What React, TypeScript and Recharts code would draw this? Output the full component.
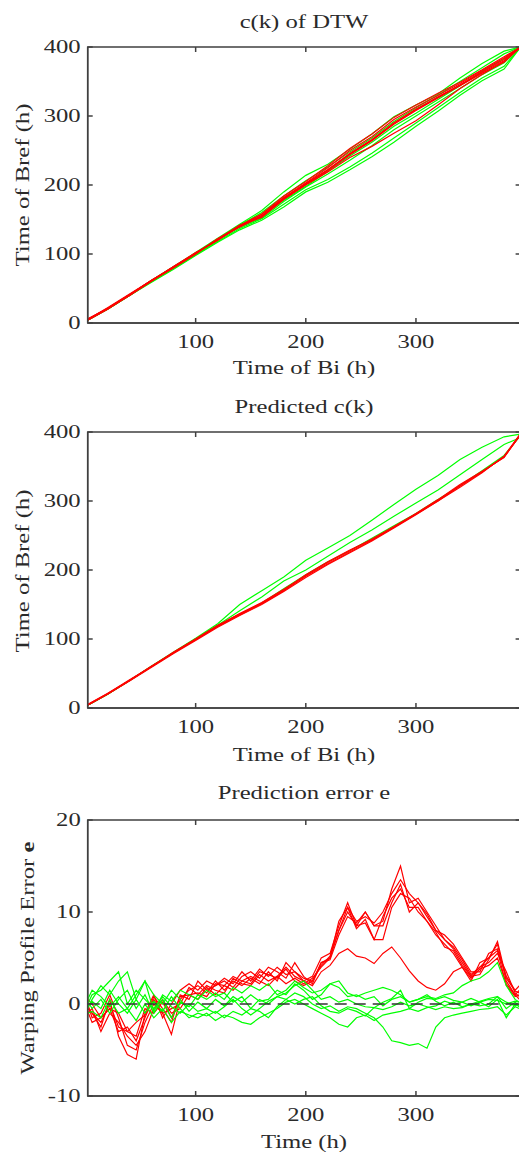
import React from 'react';
import { LineChart, Line, XAxis, YAxis, ReferenceLine, ReferenceArea } from 'recharts';

// ---------- data ----------
const X_TICKS = [100, 200, 300];
const Y_TICKS_CK = [0, 100, 200, 300, 400];
const Y_TICKS_ERR = [-10, 0, 10, 20];

// Panel 1 & 2 time grid (h)
const T1 = [2, 20, 40, 60, 80, 100, 120, 140, 160, 180, 200, 220, 240, 260, 280, 300, 320, 340, 360, 380, 395];

// Panel 1: c(k) of DTW
const dtwRed1 = [5, 21, 41, 62, 81, 101, 121, 140, 156, 180, 202, 222, 246, 266, 290, 310, 327, 345, 363, 380, 400];
const dtwRed2 = [4, 20, 40, 61, 80, 100, 122, 139, 155, 182, 203, 225, 250, 270, 295, 313, 330, 347, 366, 384, 400];
const dtwRed3 = [5, 22, 42, 62, 82, 102, 120, 141, 158, 181, 201, 221, 244, 264, 288, 308, 326, 344, 362, 378, 400];
const dtwRed4 = [6, 21, 41, 61, 81, 101, 121, 142, 153, 179, 200, 219, 240, 256, 275, 293, 316, 340, 360, 379, 400];
const dtwRed5 = [4, 20, 41, 62, 80, 100, 122, 141, 158, 184, 205, 228, 253, 274, 298, 316, 333, 349, 367, 386, 400];
const dtwRed6 = [5, 21, 40, 61, 82, 101, 120, 140, 154, 180, 201, 222, 245, 265, 290, 309, 328, 345, 364, 382, 400];
const dtwGreen1 = [5, 21, 41, 62, 82, 102, 123, 143, 163, 190, 214, 230, 252, 274, 299, 316, 332, 355, 376, 394, 400];
const dtwGreen2 = [4, 20, 40, 60, 81, 101, 121, 142, 160, 184, 206, 226, 248, 268, 292, 312, 330, 350, 370, 390, 400];
const dtwGreen3 = [5, 20, 40, 59, 78, 98, 117, 135, 149, 168, 190, 204, 222, 241, 262, 285, 307, 330, 351, 368, 400];
const dtwGreen4 = [4, 21, 41, 60, 79, 99, 118, 137, 151, 172, 193, 208, 226, 246, 268, 290, 312, 334, 355, 372, 400];
const dtwGreen5 = [5, 21, 41, 61, 81, 100, 120, 139, 152, 176, 197, 216, 236, 257, 280, 300, 320, 340, 360, 377, 400];
const dtwGreen6 = [4, 20, 40, 61, 80, 100, 121, 140, 155, 178, 198, 220, 242, 262, 285, 304, 324, 344, 365, 383, 398];

// Panel 2: Predicted c(k)
const predGreen1 = [4, 20, 40, 61, 81, 101, 122, 150, 170, 190, 214, 232, 250, 272, 295, 317, 337, 360, 378, 393, 397];
const predGreen2 = [4, 20, 40, 60, 80, 100, 120, 141, 161, 184, 200, 220, 240, 258, 278, 297, 316, 338, 360, 382, 392];
const predGreen3 = [4, 20, 40, 60, 80, 100, 119, 136, 152, 173, 193, 212, 228, 246, 264, 282, 302, 322, 344, 366, 395];
const predRed1 = [4, 20, 40, 60, 80, 99, 118, 135, 151, 170, 191, 209, 226, 243, 262, 281, 300, 322, 342, 364, 397];
const predRed2 = [5, 21, 41, 60, 81, 100, 119, 137, 153, 172, 192, 211, 228, 245, 263, 282, 302, 324, 343, 363, 397];
const predRed3 = [4, 20, 39, 59, 79, 98, 117, 134, 150, 169, 189, 208, 225, 242, 261, 280, 300, 320, 341, 365, 398];
const predRed4 = [5, 21, 40, 61, 80, 100, 120, 136, 152, 171, 193, 212, 229, 244, 262, 281, 301, 322, 342, 364, 396];

// Panel 3 time grid (h)
const T3 = [2, 6, 14, 22, 30, 38, 46, 54, 62, 70, 78, 86, 94, 102, 110, 118, 126, 134, 142, 150, 158, 166, 174, 182, 190, 198, 206, 214, 222, 230, 238, 246, 254, 262, 270, 278, 286, 294, 302, 310, 318, 326, 334, 342, 350, 358, 366, 374, 382, 390, 394];

// Panel 3: Prediction error e
const errRed1 = [-0.5, -1, -2.5, 0.5, -3.5, -5.5, -6, -1, 1, -1.5, 0, 1.5, 2.2, 1.5, 2.5, 2, 2.8, 2.2, 3.5, 2.5, 3.8, 3, 4, 3.2, 3.5, 2.5, 3, 5, 5.5, 8.5, 11, 8.5, 10, 8.5, 9, 12.5, 15, 11, 11.5, 10, 8.5, 7, 6, 4.5, 3, 4, 5, 6.5, 2.5, 1, 1.5];
const errRed2 = [0, -1.5, -1, 1, -1.5, -4.5, -5, -2, 0, -1, -3.3, 0.5, 1.5, 2, 1.2, 2.5, 1.5, 2.5, 2, 2.8, 2.2, 3.5, 2.5, 4.5, 3.5, 2.8, 2.5, 4.5, 5, 9, 10.5, 9, 9.5, 8.8, 10, 12, 13.5, 12, 11, 9.5, 8, 7.5, 6.5, 5, 3.5, 3.5, 5.5, 6, 3, 1.5, 2];
const errRed3 = [-1, -0.5, -3, -1, -2, -3.5, -4.5, -3, -0.5, 0.5, -1, -0.5, 1, 0.5, 1.8, 1, 2, 1.5, 2.5, 3, 2.5, 2, 3, 2.2, 2.8, 2.2, 2.8, 4, 5, 8, 10, 8.5, 8.8, 7, 9.5, 11.5, 12.5, 10.5, 10.5, 9, 7.5, 6.5, 5.5, 4, 2.5, 4.5, 5, 5.8, 2, 0.8, 1];
const errRed4 = [-0.8, -2, -1.5, -0.5, -3, -2.5, -4, -1.5, 0.8, -0.5, -2, 1, 0.5, 2.5, 1.5, 2, 2.5, 1.8, 3, 3.5, 2.8, 4, 3.5, 2.8, 4.5, 3, 2.2, 4.5, 4.8, 7.5, 9.5, 8.8, 10, 8.5, 8.5, 11, 13, 10, 11, 9.8, 8, 7, 6.2, 4.8, 3.2, 4, 4.5, 5.5, 3.5, 1.2, 0.8];
const errRed5 = [-0.3, -1, -2, 0, -2.5, -3, -2, -1.2, 0.5, -1, -0.5, 0, 1.8, 1, 2, 1.5, 1.2, 2.8, 2.2, 2, 3.2, 2.5, 3, 4, 3, 2.5, 2, 3.5, 4.2, 5.5, 6, 5.2, 5, 4.4, 5.5, 6.2, 5, 3.6, 2.5, 1.8, 1.5, 2.2, 3.5, 4, 2.8, 3.8, 4.2, 5, 2.2, 1, 0.5];
const errRed6 = [0.5, 0, -1.5, -0.5, -1, -3, -3.5, -0.5, -1, 0.2, -1.5, 0.8, 1, 1.2, 0.8, 2.2, 2, 3, 2.5, 2.2, 3.5, 3.2, 2.8, 3.8, 2.5, 2, 2.5, 4.2, 5.2, 8, 10.5, 8.2, 9.2, 7, 7, 10.5, 12, 11.5, 10, 9, 7.8, 6.2, 5.8, 4.2, 3, 3.2, 4.8, 6.8, 2.8, 1.4, 1.2];
const errGreen1 = [0, 1, 1.5, 2.5, 3.5, 0, 1.5, 0.5, -0.5, 0.8, -0.3, -1, 0, -0.8, -0.5, -1, -0.3, 0.5, -0.5, -1.2, -0.5, 0.3, 0.8, 0.5, 1.2, 0.8, 0, -0.5, -0.2, -0.8, -0.3, -0.5, -1, -1.5, -2.5, -4, -4.2, -4.5, -4.3, -4.8, -2.5, -1.5, -1.2, -1, -0.8, -0.6, -0.5, -0.3, -1.2, -0.3, -0.5];
const errGreen2 = [-0.5, 0.5, 2, 1, 2.5, 3.5, 0.5, 2.5, 1, 0, 1.5, 0.5, -0.8, 0.2, -0.5, 0.5, -0.2, 0.8, 0.2, 1, 0.3, 0.5, 1.5, 1, 2.2, 1.5, 0.5, 1, 2.2, 1.8, 0.8, 1, 0.5, 0.8, -0.2, 0.5, 0.8, 0.2, 0.5, 0.8, 0.6, 1, 1.2, 2, 2.5, 2.8, 3.5, 4.5, 2, 0.5, 0.2];
const errGreen3 = [0.3, -0.5, 0.5, -1, 0.5, 1.5, -0.5, 1, -1, 0.5, -1.5, 0.2, -0.3, 1, 0.5, 1.2, 0.5, 1.8, 1.2, 2, 1.5, 2.2, 1, 1.5, 2.5, 1.8, 1.2, 1.5, 2.2, 2.5, 1.2, 0.8, 1.2, 1.5, 1.8, 1.5, 1, 0.2, 0.5, 1, 0.3, -0.2, 0.2, -0.3, 0, 0.3, 0.6, 0.8, 0.2, -0.2, 0];
const errGreen4 = [-1, -0.8, -1.5, 0.5, -1, -0.5, -1.8, 0, -1.5, -0.5, -2, -0.8, -1.2, -1.5, -1, -1.8, -1.2, -1.5, -2, -2.2, -1.5, -1, -0.5, 0.2, 0.5, 0, -0.5, -1, -1.5, -2.2, -2.5, -1.5, -1.2, -1.8, -1.2, -1, -0.8, -0.5, -0.8, -0.4, -0.2, 0.3, 0, 0.2, -0.2, 0.2, 0.5, 0.4, 0, 0.3, 0.2];
const errGreen5 = [0.5, 1.5, 0.8, -0.3, 0.8, -0.5, 1, 2.5, -0.8, 1, 0.3, 1.5, 1, 0.5, 1.5, 0.8, 1.2, 0.2, 0.8, -0.5, 0.5, 0, 0.8, 1.2, 2, 2.5, 1.5, 0.5, 0.8, 0.2, 0.5, 0, -0.3, -0.4, 0.2, 0.6, 1.5, -0.5, 0.2, 0.6, 0.5, 0.8, 0.4, 0.2, 0.6, 0.2, -0.3, 0.5, -1.5, 0, -0.3];
const errGreen6 = [-0.2, 0.3, -0.5, 1.5, 0, -1, 0.5, -1, 0.3, -0.8, 0.8, -0.5, -1.5, -1, -1.3, -0.8, -1.5, -0.8, -1.2, -0.5, -0.8, -1.5, -0.3, 0.5, 0, 0.5, 0.8, -0.2, -0.8, -1, -0.5, -0.8, -1.3, -0.4, -0.6, -0.3, 0.2, -0.2, 0, -0.3, -0.6, -0.3, -0.5, -0.4, 0, -0.2, 0, 0.8, -0.5, 0.2, -0.2];

// ---------- styling ----------
const RED = '#ff0000';
const GREEN = '#00ff00';
const AX = '#404040';
const TXT = '#2a2a2a';
const FONT = '"Liberation Serif", "Times New Roman", serif';
const SX = 1.37;
const FS = 18;

const CH_W = 540;
const CH_H = 378;
const M_TOP = 47;
const Y_W = 87.7;
const M_RIGHT = 19.4;
const X_H = 55;
const PLOT_H = CH_H - M_TOP - X_H;
const PLOT_W = CH_W - Y_W - M_RIGHT;
const X_DOMAIN: [number, number] = [2, 395];

const mk = (xs: number[], ys: number[]) => xs.map((x, i) => ({ x, y: ys[i] }));

function XTick(props: any) {
  const { x, y, payload } = props;
  return (
    <g>
      <line x1={x} y1={y} x2={x} y2={y - 5} stroke={AX} strokeWidth={1.5} />
      <line x1={x} y1={y - PLOT_H} x2={x} y2={y - PLOT_H + 5} stroke={AX} strokeWidth={1.5} />
      <text
        transform={`translate(${x},${y + 19}) scale(${SX},1)`}
        textAnchor="middle"
        dominantBaseline="central"
        fontSize={FS}
        fontFamily={FONT}
        fill={TXT}
      >
        {payload.value}
      </text>
    </g>
  );
}

function YTick(props: any) {
  const { x, y, payload } = props;
  return (
    <g>
      <line x1={x} y1={y} x2={x + 5} y2={y} stroke={AX} strokeWidth={1.5} />
      <line x1={x + PLOT_W - 5} y1={y} x2={x + PLOT_W} y2={y} stroke={AX} strokeWidth={1.5} />
      <text
        transform={`translate(${x - 7},${y}) scale(${SX},1)`}
        textAnchor="end"
        dominantBaseline="central"
        fontSize={FS}
        fontFamily={FONT}
        fill={TXT}
      >
        {payload.value}
      </text>
    </g>
  );
}

type Series = { ys: number[]; color: string };

function Panel(props: {
  top: number;
  xs: number[];
  series: Series[];
  yDomain: [number, number];
  yTicks: number[];
  zeroLine?: boolean;
}) {
  const { top, xs, series, yDomain, yTicks, zeroLine } = props;
  return (
    <div style={{ position: 'absolute', left: 0, top }}>
      <LineChart width={CH_W} height={CH_H} margin={{ top: M_TOP, right: M_RIGHT, bottom: 0, left: 0 }}>
        <XAxis
          type="number"
          dataKey="x"
          domain={X_DOMAIN}
          ticks={X_TICKS}
          interval={0}
          allowDataOverflow
          height={X_H}
          tickSize={0}
          tickMargin={0}
          tickLine={false}
          axisLine={{ stroke: AX, strokeWidth: 1.5 }}
          tick={(p: any) => <XTick {...p} />}
        />
        <YAxis
          type="number"
          dataKey="y"
          domain={yDomain}
          ticks={yTicks}
          interval={0}
          allowDataOverflow
          width={Y_W}
          tickSize={0}
          tickMargin={0}
          tickLine={false}
          axisLine={{ stroke: AX, strokeWidth: 1.5 }}
          tick={(p: any) => <YTick {...p} />}
        />
        <ReferenceArea
          x1={X_DOMAIN[0]}
          x2={X_DOMAIN[1]}
          y1={yDomain[0]}
          y2={yDomain[1]}
          fill="none"
          fillOpacity={0}
          stroke={AX}
          strokeWidth={1.5}
          ifOverflow="visible"
        />
        {series.map((s, i) => (
          <Line
            key={i}
            data={mk(xs, s.ys)}
            dataKey="y"
            type="linear"
            stroke={s.color}
            strokeWidth={1.2}
            dot={false}
            activeDot={false}
            isAnimationActive={false}
          />
        ))}
        {zeroLine ? (
          <ReferenceLine y={0} stroke="#333" strokeWidth={1.5} strokeDasharray="12 7" />
        ) : null}
      </LineChart>
    </div>
  );
}

const textStyle: React.CSSProperties = {
  position: 'absolute',
  whiteSpace: 'nowrap',
  fontFamily: FONT,
  fontSize: FS,
  color: TXT,
  lineHeight: 1,
};

function Txt(props: { x: number; y: number; rotate?: boolean; children: React.ReactNode }) {
  const { x, y, rotate, children } = props;
  return (
    <div
      style={{
        ...textStyle,
        left: x,
        top: y,
        transform: `translate(-50%,-50%) ${rotate ? 'rotate(-90deg) ' : ''}scaleX(${SX})`,
      }}
    >
      {children}
    </div>
  );
}

export default function App() {
  const dtwSeries: Series[] = [
    { ys: dtwGreen1, color: GREEN },
    { ys: dtwGreen2, color: GREEN },
    { ys: dtwGreen3, color: GREEN },
    { ys: dtwGreen4, color: GREEN },
    { ys: dtwGreen5, color: GREEN },
    { ys: dtwGreen6, color: GREEN },
    { ys: dtwRed1, color: RED },
    { ys: dtwRed2, color: RED },
    { ys: dtwRed3, color: RED },
    { ys: dtwRed4, color: RED },
    { ys: dtwRed5, color: RED },
    { ys: dtwRed6, color: RED },
  ];
  const predSeries: Series[] = [
    { ys: predGreen1, color: GREEN },
    { ys: predGreen2, color: GREEN },
    { ys: predGreen3, color: GREEN },
    { ys: predRed1, color: RED },
    { ys: predRed2, color: RED },
    { ys: predRed3, color: RED },
    { ys: predRed4, color: RED },
  ];
  const errSeries: Series[] = [
    { ys: errRed1, color: RED },
    { ys: errRed2, color: RED },
    { ys: errRed3, color: RED },
    { ys: errRed4, color: RED },
    { ys: errRed5, color: RED },
    { ys: errRed6, color: RED },
    { ys: errGreen1, color: GREEN },
    { ys: errGreen2, color: GREEN },
    { ys: errGreen3, color: GREEN },
    { ys: errGreen4, color: GREEN },
    { ys: errGreen5, color: GREEN },
    { ys: errGreen6, color: GREEN },
  ];
  return (
    <div style={{ position: 'absolute', left: 0, top: 0, width: 519, height: 1153, overflow: 'hidden', background: '#fff' }}>
      <Panel top={0} xs={T1} series={dtwSeries} yDomain={[0, 400]} yTicks={Y_TICKS_CK} />
      <Panel top={385} xs={T1} series={predSeries} yDomain={[0, 400]} yTicks={Y_TICKS_CK} />
      <Panel top={773} xs={T3} series={errSeries} yDomain={[-10, 20]} yTicks={Y_TICKS_ERR} zeroLine />

      <Txt x={304} y={22}>c(k) of DTW</Txt>
      <Txt x={304} y={368}>Time of Bi (h)</Txt>
      <Txt x={23} y={185} rotate>Time of Bref (h)</Txt>

      <Txt x={304} y={407}>Predicted c(k)</Txt>
      <Txt x={304} y={755}>Time of Bi (h)</Txt>
      <Txt x={23} y={571} rotate>Time of Bref (h)</Txt>

      <Txt x={304} y={793}>Prediction error e</Txt>
      <Txt x={304} y={1142}>Time (h)</Txt>
      <Txt x={28} y={958} rotate>
        Warping Profile Error <b>e</b>
      </Txt>
    </div>
  );
}
